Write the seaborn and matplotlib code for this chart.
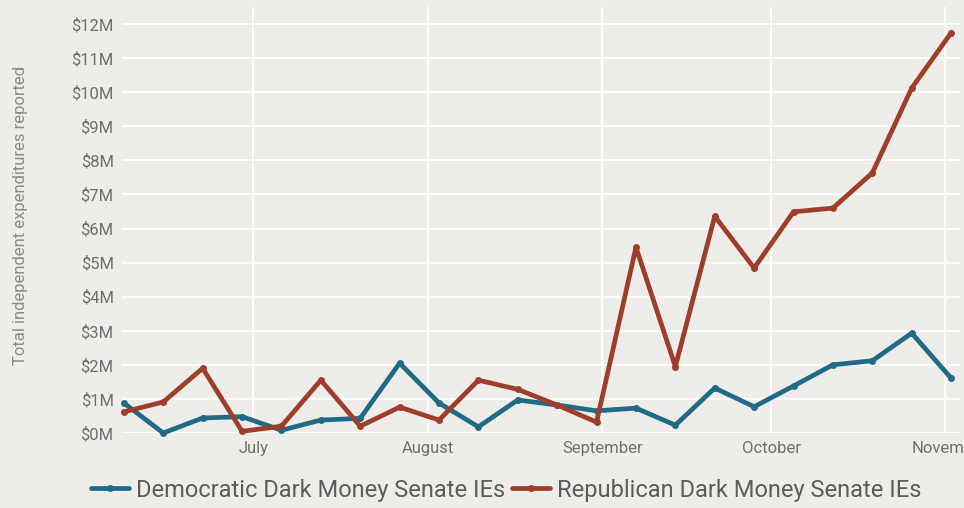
import matplotlib
matplotlib.use("Agg")
import matplotlib.pyplot as plt
import matplotlib.transforms as mtransforms
import seaborn as sns
import pandas as pd

# ---- data ----
week_dates = pd.date_range("2018-06-08", periods=22, freq="7D")
dem_values = [0.88, 0.0, 0.44, 0.48, 0.08, 0.38, 0.43, 2.05, 0.88, 0.18, 0.97,
              0.82, 0.65, 0.73, 0.23, 1.32, 0.77, 1.38, 2.0, 2.12, 2.93, 1.61]
rep_values = [0.62, 0.91, 1.9, 0.05, 0.2, 1.55, 0.2, 0.76, 0.38, 1.55, 1.28,
              0.82, 0.32, 5.45, 1.95, 6.36, 4.84, 6.49, 6.6, 7.63, 10.12, 11.74]
series_names = ["Democratic Dark Money Senate IEs", "Republican Dark Money Senate IEs"]
series_colors = ["#1f6a86", "#9e3d29"]
month_ticks = ["2018-07-01", "2018-08-01", "2018-09-01", "2018-10-01", "2018-11-01"]
month_labels = ["July", "August", "September", "October", "Novem"]
y_ticks = list(range(0, 13))
y_labels = [f"${v}M" for v in y_ticks]
y_title = "Total independent expenditures reported"

df = pd.DataFrame({
    "date": list(week_dates) * 2,
    "value": dem_values + rep_values,
    "series": [series_names[0]] * 22 + [series_names[1]] * 22,
})

BG = "#efedea"
TXT = "#6f6f6f"

sns.set_theme(style="whitegrid")
plt.rcParams["font.family"] = ["Roboto", "DejaVu Sans"]

fig = plt.figure(figsize=(9.64, 5.08), dpi=100, facecolor=BG)
ax = fig.add_axes([122 / 964, (508 - 433) / 508, (960 - 122) / 964, (433 - 7) / 508])
ax.set_facecolor(BG)

sns.lineplot(data=df, x="date", y="value", hue="series", palette=series_colors,
             hue_order=series_names, marker="o", markersize=5, markeredgewidth=0,
             linewidth=3.4, ax=ax, legend=True, clip_on=False)

ax.set_ylim(0, 12.5)
ax.set_xlim(pd.Timestamp("2018-06-07 16:00"), pd.Timestamp("2018-11-03 14:00"))
ax.set_yticks(y_ticks)
ax.set_yticklabels(y_labels, color=TXT, fontsize=12)
ax.set_xticks([pd.Timestamp(t) for t in month_ticks])
ax.set_xticklabels(month_labels, color=TXT, fontsize=12)
ax.tick_params(axis="both", length=0)
ax.tick_params(axis="y", pad=6)
ax.tick_params(axis="x", pad=6)
last = ax.get_xticklabels()[-1]
last.set_transform(last.get_transform() +
                   mtransforms.ScaledTranslation(-0.07, 0, fig.dpi_scale_trans))
ax.grid(True, color="white", linewidth=1.4)
ax.set_axisbelow(True)
for s in ax.spines.values():
    s.set_visible(False)
ax.set_xlabel("")
ax.set_ylabel(y_title, color="#8a8a8a", fontsize=12)
ax.yaxis.set_label_coords((28 - 122) / 838, 0.51)

handles, labels = ax.get_legend_handles_labels()
ax.get_legend().remove()
leg = fig.legend(handles, labels, loc="center", ncol=2,
                 bbox_to_anchor=(506 / 964, 18 / 508), frameon=False,
                 fontsize=17, handlelength=1.6, handletextpad=0.3,
                 columnspacing=0.3, labelcolor="#5c5c5c")
for h in leg.legend_handles:
    h.set_linewidth(3.4)
    h.set_markersize(5)

fig.savefig("out.png", dpi=100, facecolor=BG)
